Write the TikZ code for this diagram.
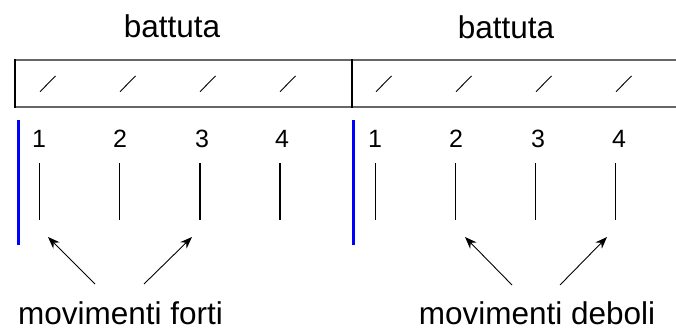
\documentclass[tikz,border=0pt]{standalone}
\usepackage{fontspec}
\setmainfont{Liberation Sans}
\usetikzlibrary{arrows.meta}
\begin{document}
\begin{tikzpicture}[x=1pt,y=-1pt,
  bigtxt/.style={font=\fontsize{31.5}{34}\selectfont, inner sep=0pt, anchor=base, text depth=0pt},
  numtxt/.style={font=\fontsize{25}{27}\selectfont, inner sep=0pt, anchor=base},
  boxline/.style={draw=black!60, line width=1.3pt},
  divline/.style={draw=black, line width=1.3pt},
  slash/.style={draw=black, line width=0.9pt},
  beatthin/.style={draw=black, line width=1pt},
  beatthick/.style={draw=black, line width=2pt},
  barline/.style={draw=blue, line width=3.3pt},
  pointer/.style={draw=black, line width=0.9pt, -{Stealth[length=12pt,width=9pt]}}]
\useasboundingbox (0,0) rectangle (676,331);
% titles
\node[bigtxt] (t1) at (172,38) {battuta};
\node[bigtxt] (t2) at (506,39) {battuta};
% box
\draw[boxline] (15,60) -- (678,60);
\draw[boxline] (15,107) -- (678,107);
\draw[divline] (15,59.4) -- (15,107.6);
\draw[divline] (352,59.4) -- (352,107.6);
% slashes
\foreach \x in {40,120,200,280,376,456,536,616}
  \draw[slash] (\x,91.7) -- (\x+15.5,76);
% blue bars
\draw[barline] (18.3,120) -- (18.3,245);
\draw[barline] (353.3,120) -- (353.3,245);
% numbers
\node[numtxt] (a1) at (39,147) {1};
\node[numtxt] (a2) at (120,147) {2};
\node[numtxt] (a3) at (202,147) {3};
\node[numtxt] (a4) at (282,147) {4};
\node[numtxt] (b1) at (375,147) {1};
\node[numtxt] (b2) at (456,147) {2};
\node[numtxt] (b3) at (538,147) {3};
\node[numtxt] (b4) at (619,147) {4};
% beat lines
\draw[beatthin] (39.5,163) -- (39.5,220);
\draw[beatthin] (119.5,163) -- (119.5,220);
\draw[beatthick] (199.5,163) -- (199.5,220);
\draw[beatthick] (279.5,163) -- (279.5,220);
\draw[beatthin] (375.5,163) -- (375.5,220);
\draw[beatthin] (455.5,163) -- (455.5,220);
\draw[beatthin] (535.5,163) -- (535.5,220);
\draw[beatthin] (615.5,163) -- (615.5,220);
% labels
\node[bigtxt] (forti) at (120.5,324) {movimenti forti};
\node[bigtxt] (deboli) at (537,324) {movimenti deboli};
% arrow ends
\coordinate (p1s) at (95,284);
\coordinate (p1e) at (48,237);
\coordinate (p2s) at (144,284);
\coordinate (p2e) at (192,237);
\coordinate (p3s) at (512,285);
\coordinate (p3e) at (465,237);
\coordinate (p4s) at (560,285);
\coordinate (p4e) at (607,237);
\draw[pointer] (p1s) -- (p1e);
\draw[pointer] (p2s) -- (p2e);
\draw[pointer] (p3s) -- (p3e);
\draw[pointer] (p4s) -- (p4e);
\end{tikzpicture}
\end{document}
